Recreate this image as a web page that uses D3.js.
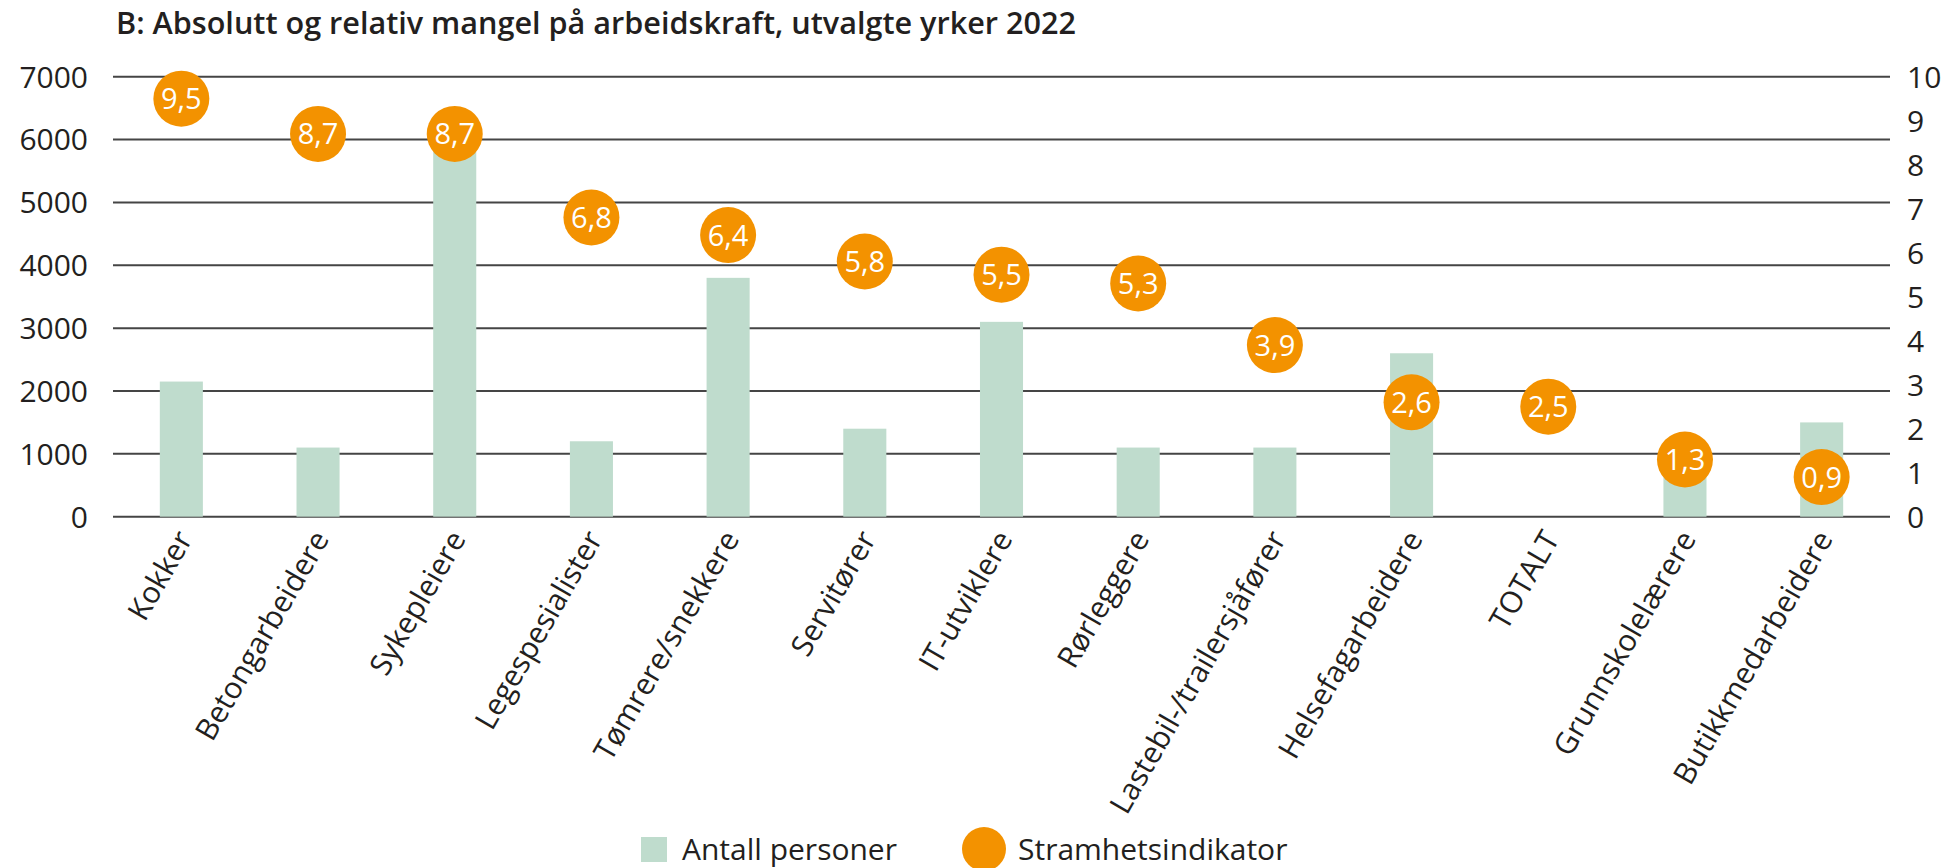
<!DOCTYPE html>
<html>
<head>
<meta charset="utf-8">
<script src="https://cdn.jsdelivr.net/npm/d3@7"></script>
<style>
  html, body { margin: 0; padding: 0; background: #fff; }
  svg { display: block; font-family: "Open Sans", "DejaVu Sans", sans-serif; }
</style>
</head>
<body>
<svg id="chart" width="1959" height="868"></svg>
<script>
const title = "B: Absolutt og relativ mangel på arbeidskraft, utvalgte yrker 2022";
const categories = ["Kokker", "Betongarbeidere", "Sykepleiere", "Legespesialister", "Tømrere/snekkere", "Servitører", "IT-utviklere", "Rørleggere", "Lastebil-/trailersjåfører", "Helsefagarbeidere", "TOTALT", "Grunnskolelærere", "Butikkmedarbeidere"];
const antallPersoner = [2150, 1100, 6000, 1200, 3800, 1400, 3100, 1100, 1100, 2600, null, 1000, 1500];
const stramhetsindikator = [9.5, 8.7, 8.7, 6.8, 6.4, 5.8, 5.5, 5.3, 3.9, 2.6, 2.5, 1.3, 0.9];
const leftTicks = [0, 1000, 2000, 3000, 4000, 5000, 6000, 7000];
const rightTicks = [0, 1, 2, 3, 4, 5, 6, 7, 8, 9, 10];
const legendLabels = ["Antall personer", "Stramhetsindikator"];

const barColor = "#bfdccd";
const dotColor = "#f39200";
const gridColor = "#454545";
const textColor = "#231f20";

const svg = d3.select("#chart");
const plotLeft = 113, plotRight = 1890, plotTop = 76.7, plotBottom = 516.7;

const x = d3.scaleBand().domain(categories).range([plotLeft, plotRight]).paddingInner(0.685).paddingOuter(0.3425);
const yL = d3.scaleLinear().domain([0, 7000]).range([plotBottom, plotTop]);
const yR = d3.scaleLinear().domain([0, 10]).range([plotBottom, plotTop]);

// Title
svg.append("text")
  .attr("x", 116).attr("y", 34)
  .attr("font-size", 31).attr("font-weight", 600)
  .attr("fill", textColor)
  .attr("textLength", 960).attr("lengthAdjust", "spacingAndGlyphs")
  .text(title);

// Gridlines
svg.append("g").selectAll("line").data(leftTicks).join("line")
  .attr("x1", plotLeft).attr("x2", plotRight)
  .attr("y1", d => yL(d)).attr("y2", d => yL(d))
  .attr("stroke", gridColor).attr("stroke-width", 2);

// Left axis labels
svg.append("g").selectAll("text").data(leftTicks).join("text")
  .attr("x", 88).attr("y", d => yL(d)).attr("dy", "0.36em")
  .attr("text-anchor", "end").attr("font-size", 30).attr("fill", textColor)
  .text(d => d);

// Right axis labels
svg.append("g").selectAll("text").data(rightTicks).join("text")
  .attr("x", 1907).attr("y", d => yR(d)).attr("dy", "0.36em")
  .attr("text-anchor", "start").attr("font-size", 30).attr("fill", textColor)
  .text(d => d);

// Bars
svg.append("g").selectAll("rect").data(categories.map((c, i) => ({c, v: antallPersoner[i]})).filter(d => d.v != null)).join("rect")
  .attr("x", d => x(d.c)).attr("width", x.bandwidth())
  .attr("y", d => yL(d.v)).attr("height", d => yL(0) - yL(d.v))
  .attr("fill", barColor);

// Dots
const dots = svg.append("g").selectAll("g").data(categories.map((c, i) => ({c, v: stramhetsindikator[i]}))).join("g")
  .attr("transform", d => `translate(${x(d.c) + x.bandwidth() / 2},${yR(d.v)})`);
dots.append("circle").attr("r", 28).attr("fill", dotColor);
dots.append("text")
  .attr("text-anchor", "middle").attr("dy", "0.36em")
  .attr("font-size", 29).attr("fill", "#fff")
  .text(d => d.v.toFixed(1).replace(".", ","));

// X labels
svg.append("g").selectAll("text").data(categories).join("text")
  .attr("transform", d => `translate(${x(d) + x.bandwidth() / 2 + 12},${plotBottom + 22}) rotate(-60)`)
  .attr("text-anchor", "end").attr("font-size", 30).attr("fill", textColor)
  .text(d => d);

// Legend
const lg = svg.append("g");
lg.append("rect").attr("x", 641).attr("y", 837).attr("width", 26).attr("height", 25).attr("fill", barColor);
lg.append("text").attr("x", 682).attr("y", 860).attr("font-size", 30).attr("fill", textColor).text(legendLabels[0]);
lg.append("circle").attr("cx", 984).attr("cy", 849).attr("r", 22).attr("fill", dotColor);
lg.append("text").attr("x", 1018).attr("y", 860).attr("font-size", 30).attr("fill", textColor).text(legendLabels[1]);
</script>
</body>
</html>
